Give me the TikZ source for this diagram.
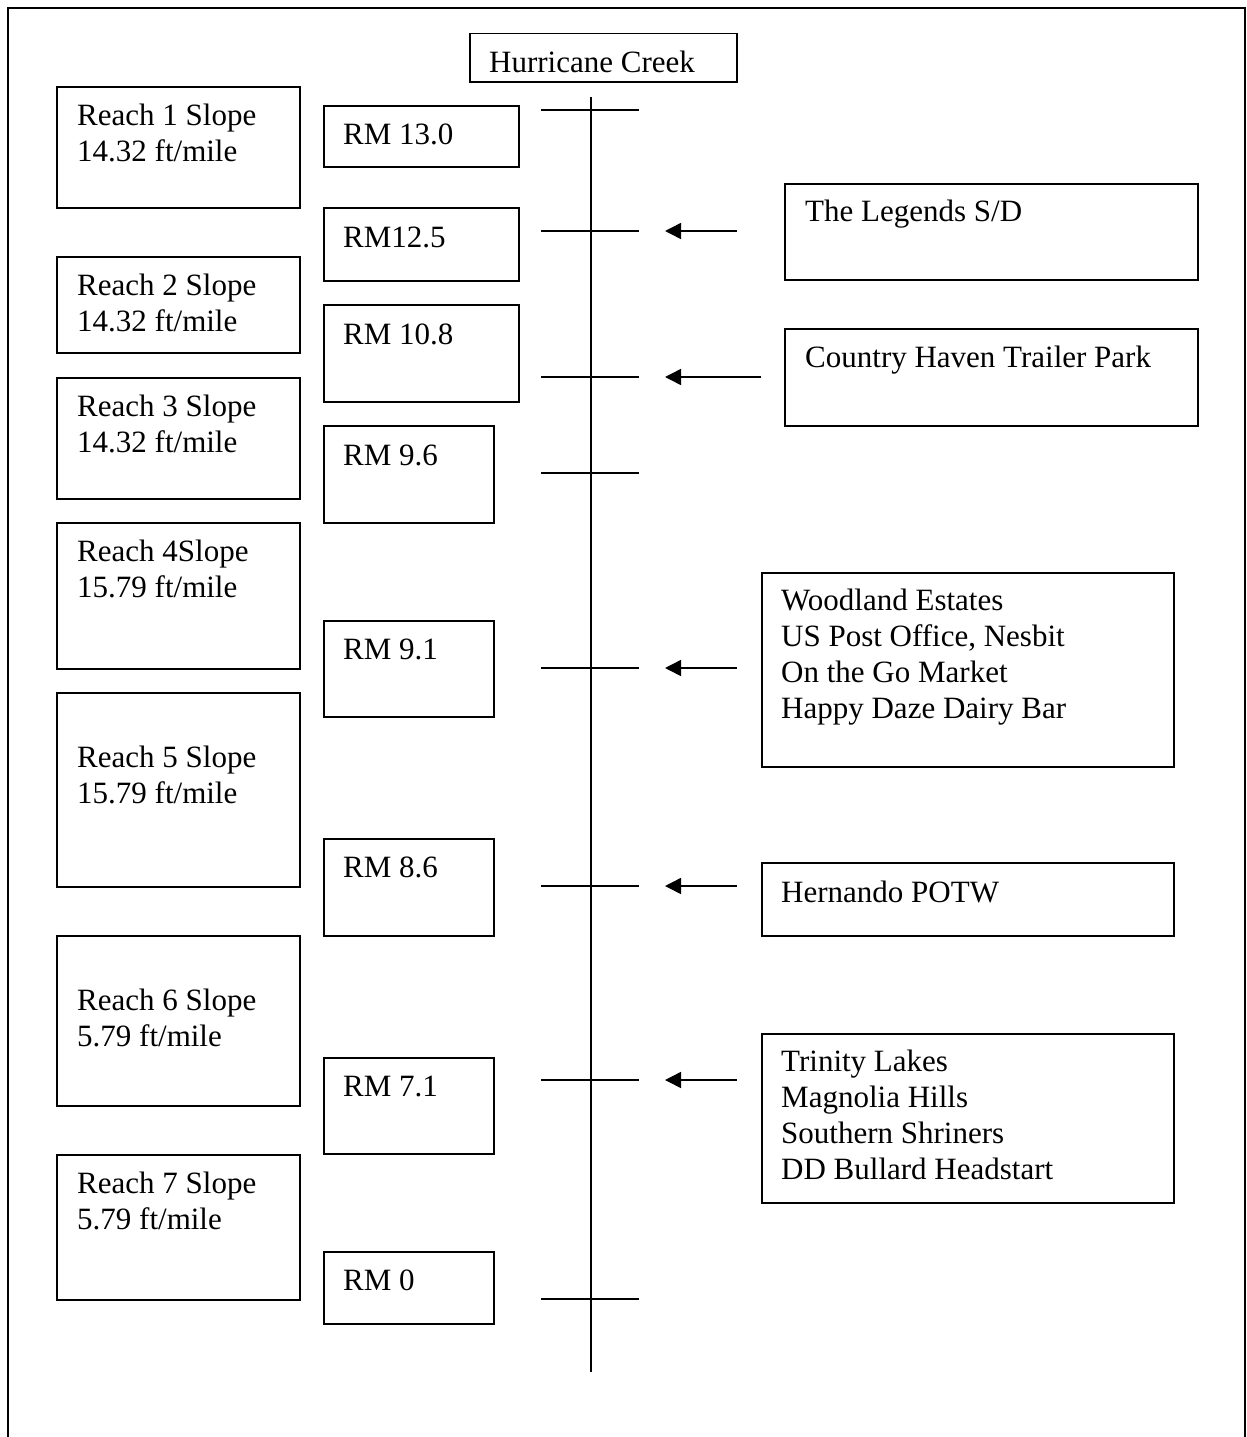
\documentclass[tikz,border=0pt]{standalone}
\usepackage{fontspec}
\setmainfont{Liberation Serif}
\usetikzlibrary{arrows.meta,positioning}
\tikzstyle{frame} = [rectangle, draw, line width=1.5pt, anchor=north west,
    inner sep=0pt]
% base west of a multi-line node is the baseline of its last line
\tikzstyle{caption} = [anchor=base west, align=left, inner sep=0pt]
\tikzstyle{tick} = [line width=1.5pt]
\tikzstyle{feed} = [-{Triangle[length=16pt,width=16pt]}, line width=1.5pt]

\begin{document}
\begin{tikzpicture}[x=1pt,y=-1pt,font=\fontsize{31}{36}\selectfont]
  \useasboundingbox (0,0) rectangle (1247,1437);
  \draw[line width=1.5pt] (8,1437) |- (1245,8) -- (1245,1437);

  % title and river
  \node[frame,minimum width=267pt,minimum height=48pt] (creek) at (469,33) {};
  \node[caption] (creekt) at (489,72) {Hurricane Creek};
  \coordinate (src) at (591,97);
  \coordinate (mouth) at (591,1372);
  \draw[tick] (src) -- (mouth);
  \foreach \y [count=\i] in {110,231,377,473,668,886,1080,1299} {
    \coordinate (tw\i) at (541,\y);
    \coordinate (te\i) at (639,\y);
    \draw[tick] (tw\i) -- (te\i);
  }

  % reaches
  \node[frame,minimum width=243pt,minimum height=121pt] (reach1) at (56,86) {};
  \node[frame,minimum width=243pt,minimum height=96pt]  (reach2) at (56,256) {};
  \node[frame,minimum width=243pt,minimum height=121pt] (reach3) at (56,377) {};
  \node[frame,minimum width=243pt,minimum height=146pt] (reach4) at (56,522) {};
  \node[frame,minimum width=243pt,minimum height=194pt] (reach5) at (56,692) {};
  \node[frame,minimum width=243pt,minimum height=170pt] (reach6) at (56,935) {};
  \node[frame,minimum width=243pt,minimum height=145pt] (reach7) at (56,1154) {};
  \node[caption] (reach1t) at (77,161)  {Reach 1 Slope\\14.32 ft/mile};
  \node[caption] (reach2t) at (77,331)  {Reach 2 Slope\\14.32 ft/mile};
  \node[caption] (reach3t) at (77,452)  {Reach 3 Slope\\14.32 ft/mile};
  \node[caption] (reach4t) at (77,597)  {Reach 4Slope\\15.79 ft/mile};
  \node[caption] (reach5t) at (77,803)  {Reach 5 Slope\\15.79 ft/mile};
  \node[caption] (reach6t) at (77,1046) {Reach 6 Slope\\5.79 ft/mile};
  \node[caption] (reach7t) at (77,1229) {Reach 7 Slope\\5.79 ft/mile};

  % river miles
  \node[frame,minimum width=195pt,minimum height=61pt] (rm130) at (323,105) {};
  \node[frame,minimum width=195pt,minimum height=73pt] (rm125) at (323,207) {};
  \node[frame,minimum width=195pt,minimum height=97pt] (rm108) at (323,304) {};
  \node[frame,minimum width=170pt,minimum height=97pt] (rm96)  at (323,425) {};
  \node[frame,minimum width=170pt,minimum height=96pt] (rm91)  at (323,620) {};
  \node[frame,minimum width=170pt,minimum height=97pt] (rm86)  at (323,838) {};
  \node[frame,minimum width=170pt,minimum height=96pt] (rm71)  at (323,1057) {};
  \node[frame,minimum width=170pt,minimum height=72pt] (rm0)   at (323,1251) {};
  \node[caption] (rm130t) at (343,144)  {RM 13.0};
  \node[caption] (rm125t) at (343,247)  {RM12.5};
  \node[caption] (rm108t) at (343,344)  {RM 10.8};
  \node[caption] (rm96t)  at (343,465)  {RM 9.6};
  \node[caption] (rm91t)  at (343,659)  {RM 9.1};
  \node[caption] (rm86t)  at (343,877)  {RM 8.6};
  \node[caption] (rm71t)  at (343,1096) {RM 7.1};
  \node[caption] (rm0t)   at (343,1290) {RM 0};

  % dischargers
  \node[frame,minimum width=413pt,minimum height=96pt]  (legends)  at (784,183) {};
  \node[frame,minimum width=413pt,minimum height=97pt]  (haven)    at (784,328) {};
  \node[frame,minimum width=412pt,minimum height=194pt] (woodland) at (761,572) {};
  \node[frame,minimum width=412pt,minimum height=73pt]  (hernando) at (761,862) {};
  \node[frame,minimum width=412pt,minimum height=169pt] (trinity)  at (761,1033) {};
  \node[caption] (legendst)  at (805,221)  {The Legends S/D};
  \node[caption] (havent)    at (805,367)  {Country Haven Trailer Park};
  \node[caption] (woodlandt) at (781,718)  {Woodland Estates\\US Post Office, Nesbit\\On the Go Market\\Happy Daze Dairy Bar};
  \node[caption] (hernandot) at (781,902)  {Hernando POTW};
  \node[caption] (trinityt)  at (781,1179) {Trinity Lakes\\Magnolia Hills\\Southern Shriners\\DD Bullard Headstart};

  % inflow arrows
  \foreach \y/\x [count=\i] in {231/737,377/761,668/737,886/737,1080/737} {
    \coordinate (in\i) at (\x,\y);
    \coordinate (at\i) at (665,\y);
    \draw[feed] (in\i) -- (at\i);
  }
\end{tikzpicture}
\end{document}
